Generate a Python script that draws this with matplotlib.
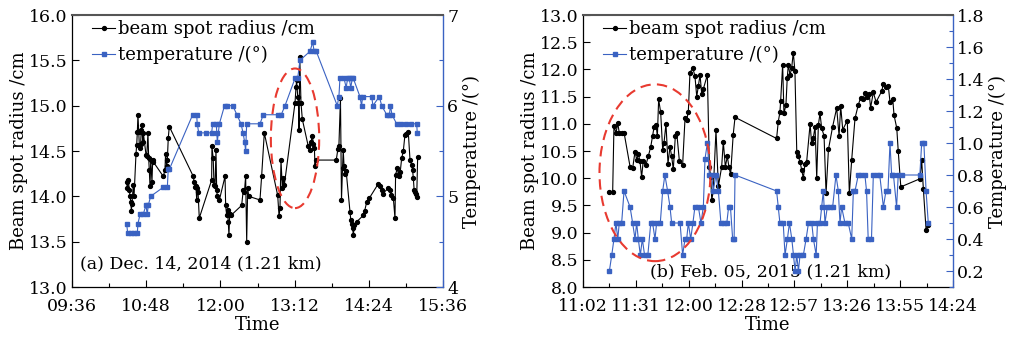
import matplotlib
matplotlib.use("Agg")
import matplotlib.pyplot as plt
from matplotlib.patches import Ellipse
from matplotlib.ticker import MultipleLocator, FixedLocator
from matplotlib.lines import Line2D

# ---------------- data (time in minutes since midnight) ----------------
a_time = [629.0, 629.7, 630.6, 631.6, 632.3, 633.0, 633.6, 634.2, 635.5, 636.2, 638.1, 638.8, 639.4, 640.0,
          640.7, 641.3, 642.0, 642.6, 643.2, 643.9, 644.6, 645.2, 647.8, 648.5, 649.7, 650.4, 651.0, 651.7,
          652.4, 653.6, 654.3, 654.9, 664.6, 666.2, 666.8, 667.9, 668.5, 669.4, 670.4, 693.7, 694.4, 695.2,
          696.3, 697.0, 697.6, 698.3, 699.5, 711.5, 711.8, 713.0, 713.8, 714.8, 715.7, 716.4, 717.0, 719.0,
          724.5, 725.1, 726.1, 727.0, 727.6, 728.3, 729.0, 730.3, 740.6, 742.2, 743.3, 744.5, 745.5, 746.5,
          747.5, 758.4, 760.0, 762.6, 775.6, 776.9, 777.8, 778.8, 780.1, 781.1, 782.1, 792.4, 793.4, 794.0,
          795.0, 795.7, 796.3, 797.0, 798.2, 799.5, 805.3, 807.0, 808.0, 809.2, 810.2, 811.2, 811.8, 812.5,
          832.4, 834.0, 835.0, 836.5, 837.5, 838.5, 839.2, 840.0, 841.0, 842.0, 845.7, 846.5, 847.5, 848.3,
          849.0, 850.0, 852.3, 858.7, 860.0, 862.0, 864.5, 873.3, 875.0, 876.5, 877.5, 883.0, 884.5, 886.0,
          887.8, 889.4, 890.0, 891.7, 893.0, 894.5, 895.9, 897.5, 899.1, 900.5, 902.3, 904.0, 905.5, 906.5,
          907.2, 908.0, 909.3, 910.0, 910.5, 911.4]
a_radius = [14.16, 14.09, 14.18, 14.07, 14.00, 13.94, 13.84, 13.92, 14.13, 14.00, 14.47, 14.57, 14.71, 14.90,
            14.71, 14.57, 14.53, 14.58, 14.73, 14.79, 14.60, 14.70, 14.46, 14.44, 14.70, 14.42, 14.29, 14.11,
            14.40, 14.16, 14.40, 14.38, 14.22, 14.29, 14.47, 14.33, 14.40, 14.64, 14.77, 14.22, 14.16, 14.10,
            14.11, 13.96, 14.09, 14.05, 13.76, 14.18, 14.55, 14.42, 14.13, 14.11, 14.51, 14.07, 14.00, 13.96,
            14.22, 13.90, 13.79, 13.85, 13.72, 13.57, 13.80, 13.79, 13.90, 14.07, 14.05, 14.22, 13.50, 14.09,
            14.00, 13.96, 14.22, 14.70, 14.01, 13.78, 13.87, 14.40, 14.09, 14.20, 14.13, 15.03, 15.21, 15.28,
            15.10, 15.03, 14.73, 15.54, 15.03, 14.85, 14.55, 14.51, 14.60, 14.67, 14.58, 14.53, 14.33, 14.40,
            14.40, 14.52, 14.56, 15.08, 13.96, 14.31, 14.51, 14.33, 14.25, 14.28, 13.83, 13.74, 13.70, 13.65,
            13.57, 13.68, 13.72, 13.79, 13.84, 13.94, 13.98, 14.14, 14.11, 14.07, 14.03, 14.09, 14.07, 14.01,
            13.98, 13.76, 14.24, 14.31, 14.22, 14.27, 14.42, 14.50, 14.68, 14.69, 14.71, 14.40, 14.35, 14.29,
            14.20, 14.07, 14.05, 14.03, 13.99, 14.43]

a_temp_time = [629.0, 630.0, 633.0, 636.0, 639.4, 640.0, 642.0, 645.0, 647.8, 649.0, 650.0, 652.3, 664.6,
               668.5, 669.4, 670.5, 693.1, 697.0, 697.5, 699.0, 706.0, 711.5, 712.5, 716.0, 716.5, 717.0,
               719.0, 724.0, 726.0, 732.0, 736.0, 740.0, 742.0, 743.5, 744.5, 745.5, 758.4, 761.6, 776.0,
               779.0, 782.7, 792.4, 795.0, 797.2, 807.0, 809.5, 811.0, 813.0, 833.4, 835.0, 836.0, 840.0,
               842.0, 843.5, 845.0, 846.5, 848.0, 849.0, 855.4, 857.0, 858.0, 866.8, 868.0, 874.2, 876.5,
               881.4, 884.0, 885.0, 886.5, 891.0, 895.0, 900.0, 905.0, 910.5, 911.0]
a_temp = [4.7, 4.6, 4.6, 4.6, 4.6, 4.7, 4.8, 4.8, 4.9, 4.8, 4.9, 5.0, 5.1,
          5.1, 5.3, 5.3, 5.9, 5.9, 5.8, 5.7, 5.7, 5.7, 5.8, 5.8, 5.7, 5.6,
          5.8, 6.0, 6.0, 6.0, 5.9, 5.8, 5.7, 5.6, 5.5, 5.8, 5.8, 5.9, 5.9,
          5.9, 6.0, 6.3, 6.3, 6.5, 6.6, 6.7, 6.6, 6.6, 6.0, 6.1, 6.3, 6.3,
          6.2, 6.3, 6.3, 6.2, 6.3, 6.3, 6.1, 6.0, 6.1, 6.1, 6.0, 6.1, 6.0,
          5.9, 5.9, 6.0, 5.9, 5.8, 5.8, 5.8, 5.8, 5.8, 5.7]

b_time = [676.4, 678.2, 678.9, 680.0, 681.0, 681.8, 683.1, 684.4, 687.7, 689.1, 690.4, 691.3, 692.2, 693.1,
          694.0, 694.9, 696.4, 697.7, 699.0, 700.0, 700.8, 701.9, 702.6, 703.3, 704.4, 705.5, 706.2, 707.3,
          708.4, 709.5, 710.4, 711.3, 712.4, 713.2, 714.6, 716.4, 717.7, 718.6, 719.5, 720.4, 721.9, 723.1,
          724.1, 725.0, 725.9, 726.8, 727.7, 729.9, 731.0, 731.7, 732.3, 733.1, 734.6, 735.9, 737.7, 738.6,
          739.7, 740.8, 741.7, 742.6, 744.0, 745.0, 767.7, 768.6, 769.5, 769.9, 771.0, 771.7, 772.8, 773.5,
          774.1, 775.0, 775.9, 776.8, 777.7, 778.7, 779.6, 780.5, 781.4, 782.3, 783.2, 784.1, 786.0, 786.8,
          787.7, 788.7, 789.6, 790.5, 791.4, 792.3, 793.6, 794.7, 796.0, 798.3, 800.5, 801.8, 802.7, 803.8,
          806.3, 807.4, 808.7, 810.5, 812.3, 813.6, 814.7, 816.0, 816.8, 818.3, 819.0, 820.5, 822.0, 825.1,
          826.0, 827.4, 828.7, 829.6, 831.1, 831.8, 833.3, 834.1, 835.5, 846.0, 846.9, 847.8, 849.3, 850.5]
b_radius = [9.75, 9.75, 10.96, 10.83, 11.01, 10.83, 10.83, 10.84, 10.21, 10.18, 10.49, 10.34, 10.44, 10.32,
            10.02, 10.32, 10.25, 10.41, 10.58, 10.78, 10.94, 10.98, 10.77, 11.45, 11.21, 10.52, 10.64, 11.00,
            10.27, 10.58, 10.40, 10.16, 10.77, 10.83, 10.32, 10.25, 11.10, 11.07, 11.22, 11.94, 12.03, 11.88,
            11.50, 11.70, 11.90, 11.55, 11.64, 11.90, 10.20, 10.03, 9.60, 9.76, 10.88, 9.85, 10.21, 10.67,
            10.21, 10.40, 10.20, 10.07, 10.80, 11.12, 10.73, 11.04, 11.21, 11.42, 12.09, 11.19, 11.35, 11.84,
            12.09, 11.90, 12.02, 12.31, 11.97, 10.49, 10.40, 10.30, 10.15, 10.00, 10.27, 10.30, 11.00, 10.64,
            10.73, 10.95, 10.00, 10.98, 11.19, 10.92, 10.78, 9.72, 10.53, 10.95, 11.29, 10.78, 11.32, 10.89,
            11.06, 9.72, 10.34, 11.10, 11.35, 11.48, 11.45, 11.56, 11.50, 11.54, 11.29, 11.58, 11.40, 11.60,
            11.74, 11.68, 11.69, 11.40, 11.46, 11.16, 10.92, 10.50, 9.84, 9.99, 10.33, 9.81, 9.05, 9.14]

b_temp_time = [676.4, 677.7, 678.9, 680.0, 681.0, 681.8, 683.1, 684.4, 687.7, 689.1, 690.4, 691.3, 692.2,
               693.3, 694.4, 695.6, 697.4, 699.0, 700.0, 701.3, 702.2, 704.2, 705.5, 706.7, 708.2, 709.5,
               710.4, 715.0, 716.4, 717.7, 718.6, 719.5, 720.8, 722.0, 723.1, 725.0, 726.4, 727.7, 728.6,
               729.9, 731.0, 732.3, 733.1, 734.6, 735.9, 737.3, 739.0, 740.5, 741.5, 742.5, 743.7, 744.5,
               745.0, 767.7, 768.6, 769.5, 771.3, 772.3, 773.6, 774.7, 776.0, 776.9, 777.8, 778.7, 779.6,
               780.5, 782.3, 783.8, 785.1, 786.9, 787.8, 789.3, 790.0, 791.4, 792.3, 793.2, 794.1, 795.4,
               796.8, 798.3, 800.1, 801.4, 802.3, 803.2, 805.0, 806.8, 808.7, 809.6, 810.5, 812.3, 814.0,
               815.9, 816.8, 817.7, 819.5, 820.5, 822.3, 824.0, 826.0, 827.4, 828.5, 829.6, 830.5, 831.5,
               833.2, 834.1, 835.9, 845.9, 846.9, 848.1, 849.3, 850.5]
b_temp = [0.2, 0.3, 0.4, 0.5, 0.4, 0.5, 0.5, 0.7, 0.6, 0.5, 0.4, 0.5, 0.4,
          0.3, 0.4, 0.3, 0.3, 0.5, 0.5, 0.4, 0.5, 0.5, 0.7, 0.8, 0.7, 0.6,
          0.5, 0.5, 0.3, 0.4, 0.4, 0.5, 0.4, 0.5, 0.6, 0.6, 0.5, 0.6, 0.9,
          1.0, 0.8, 0.8, 0.7, 0.8, 0.7, 0.5, 0.5, 0.5, 0.6, 0.6, 0.4, 0.4,
          0.8, 0.7, 0.6, 0.5, 0.5, 0.3, 0.4, 0.5, 0.4, 0.3, 0.2, 0.3, 0.2,
          0.3, 0.3, 0.4, 0.5, 0.5, 0.4, 0.3, 0.5, 0.5, 0.6, 0.7, 0.5, 0.6,
          0.6, 0.6, 0.8, 0.7, 0.5, 0.6, 0.5, 0.5, 0.4, 0.7, 0.7, 0.8, 0.8,
          0.8, 0.7, 0.4, 0.4, 0.8, 0.8, 0.8, 0.6, 0.7, 0.7, 1.0, 0.8, 0.8,
          0.6, 0.8, 0.8, 0.8, 1.0, 1.0, 0.7, 0.5]

a_xticks = [576, 648, 720, 792, 864, 936]
a_xticklabels = ["09:36", "10:48", "12:00", "13:12", "14:24", "15:36"]
b_xticks = [662 + k * 202 / 7 for k in range(8)]
b_xticklabels = ["11:02", "11:31", "12:00", "12:28", "12:57", "13:26", "13:55", "14:24"]

label_radius = "beam spot radius /cm"
label_temp = "temperature /(°)"
a_note = "(a) Dec. 14, 2014 (1.21 km)"
b_note = "(b) Feb. 05, 2015 (1.21 km)"

# ---------------- style ----------------
plt.rcParams['font.family'] = ['DejaVu Serif']
FS = 12.5
FL = 13
BLUE = '#3a62c2'
RED = '#e83a30'

fig = plt.figure(figsize=(10.10, 3.41), dpi=100)


def panel(rect, t_r, r, t_T, T, xlim, xticks, xlabels, ylim, yt, ylim2, yt2, yminor2, note, note_xy, ell):
    ax = fig.add_axes(rect)
    ax2 = ax.twinx()
    ax.plot(t_r, r, color='black', lw=0.8, marker='o', ms=2.8, mec='black', mfc='black', zorder=3)
    ax2.plot(t_T, T, color=BLUE, lw=0.8, marker='s', ms=2.6, mec=BLUE, mfc=BLUE, zorder=3)
    ax.set_xlim(*xlim)
    ax.set_ylim(*ylim)
    ax2.set_ylim(*ylim2)
    ax.xaxis.set_major_locator(FixedLocator(xticks))
    ax.set_xticklabels(xlabels)
    mids = [(xticks[i] + xticks[i + 1]) / 2 for i in range(len(xticks) - 1)]
    ax.xaxis.set_minor_locator(FixedLocator(mids))
    ax.set_yticks(yt)
    ax.set_yticklabels(["%.1f" % v for v in yt])
    ax2.set_yticks(yt2)
    if ylim2[1] > 3:
        ax2.set_yticklabels(["%d" % v for v in yt2])
    else:
        ax2.set_yticklabels(["%.1f" % v for v in yt2])
    ax2.yaxis.set_minor_locator(MultipleLocator(yminor2))
    ax.tick_params(axis='both', which='major', direction='in', length=5, width=0.8, labelsize=FS, pad=3)
    ax.tick_params(axis='x', which='minor', direction='in', length=3, width=0.8)
    ax.tick_params(axis='x', which='major', pad=8)
    ax2.tick_params(axis='y', which='major', direction='in', length=5, width=0.8, colors=BLUE,
                    labelcolor='black', labelsize=FS, pad=3)
    ax2.tick_params(axis='y', which='minor', direction='in', length=3, width=0.8, colors=BLUE)
    for s in ['left', 'bottom']:
        ax.spines[s].set_color('black')
        ax.spines[s].set_linewidth(0.9)
    ax2.spines['top'].set_color('#555555')
    ax2.spines['top'].set_linewidth(1.5)
    ax2.spines['right'].set_color(BLUE)
    ax2.spines['right'].set_linewidth(1.0)
    ax2.spines['left'].set_visible(False)
    ax2.spines['bottom'].set_visible(False)
    ax.spines['right'].set_visible(False)
    ax.spines['top'].set_visible(False)
    ax.set_xlabel("Time", fontsize=FL, labelpad=1)
    ax.set_ylabel("Beam spot radius /cm", fontsize=FL, labelpad=1)
    ax2.set_ylabel("Temperature /(°)", fontsize=FL, labelpad=3)
    ax.text(note_xy[0], note_xy[1], note, transform=ax.transAxes, fontsize=FS, va='baseline', ha='left')
    e = Ellipse(ell[0], ell[1], ell[2], transform=ax.transData, fill=False, edgecolor=RED,
                lw=1.5, ls=(0, (5, 3)), zorder=5)
    ax2.add_patch(e)
    h1 = Line2D([], [], color='black', lw=0.8, marker='o', ms=2.8)
    h2 = Line2D([], [], color=BLUE, lw=0.8, marker='s', ms=2.6)
    ax2.legend([h1, h2], [label_radius, label_temp], loc='upper left', frameon=False, fontsize=FL,
               handlelength=1.25, handletextpad=0.2, labelspacing=0.4, borderaxespad=0.1,
               borderpad=0.2, bbox_to_anchor=(0.04, 1.0))
    return ax, ax2


panel([72 / 1010, 54 / 341, 371 / 1010, 272 / 341], a_time, a_radius, a_temp_time, a_temp,
      (576, 936), a_xticks, a_xticklabels, (13.0, 16.0), [13.0 + 0.5 * k for k in range(7)],
      (4, 7), [4, 5, 6, 7], 0.5, a_note, (0.022, 0.07),
      ((792.4, 14.64), 46.9, 1.54))

panel([583 / 1010, 54 / 341, 370 / 1010, 272 / 341], b_time, b_radius, b_temp_time, b_temp,
      (662, 864), b_xticks, b_xticklabels, (8.0, 13.0), [8.0 + 0.5 * k for k in range(11)],
      (0.1, 1.8), [0.2 + 0.2 * k for k in range(9)], 0.1, b_note, (0.18, 0.04),
      ((701.3, 10.10), 60.6, 3.25))

fig.savefig("out.png", dpi=100)
